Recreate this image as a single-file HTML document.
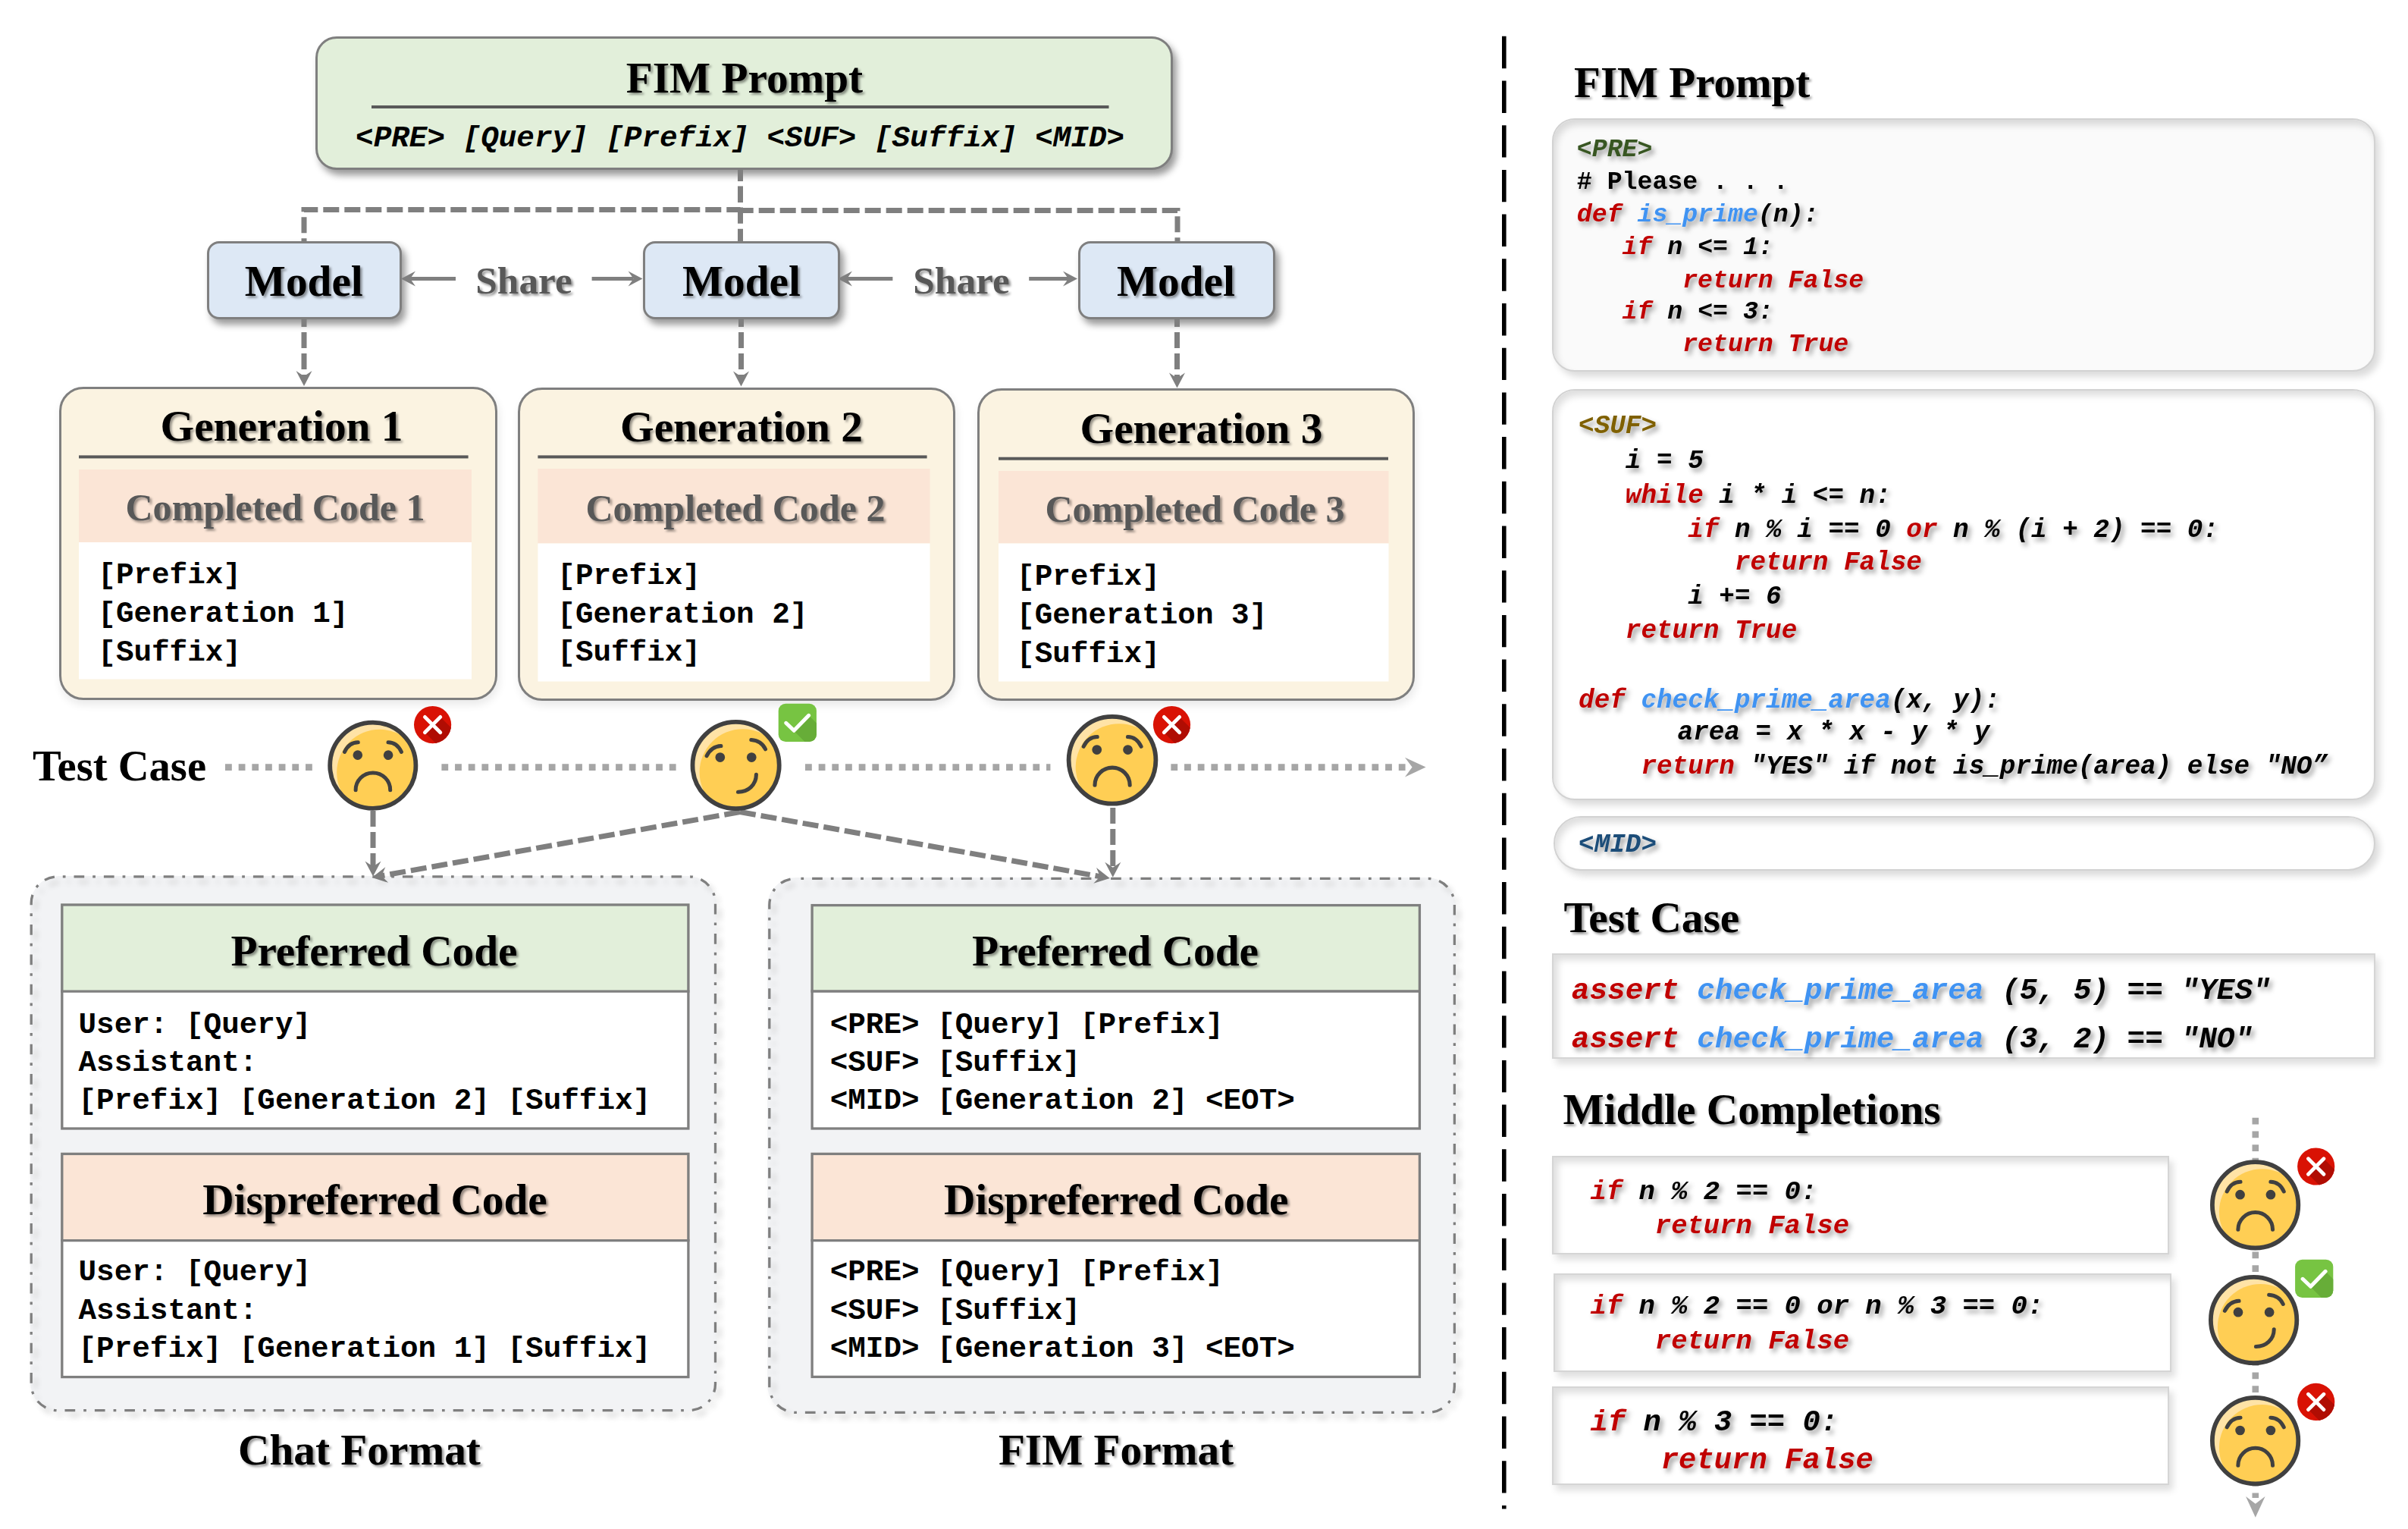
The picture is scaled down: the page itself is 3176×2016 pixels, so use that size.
<!DOCTYPE html>
<html><head><meta charset="utf-8"><title>FIM diagram</title>
<style>
html,body{margin:0;padding:0;background:#fff;}
#wrap{position:relative;width:3176px;height:2016px;overflow:hidden;background:#fff;}
svg{position:absolute;left:0;top:0;}
.serif{font-family:"Liberation Serif",serif;font-weight:bold;}
.mono{font-family:"Liberation Mono",monospace;font-weight:bold;}
</style></head><body>
<div id="wrap">
<div style="position:absolute;left:416.0px;top:48.0px;width:1130.5px;height:175.5px;box-sizing:border-box;background:#e2efda;border:3px solid #7f7f7f;border-radius:28px;box-shadow:5px 7px 10px rgba(0,0,0,0.40);"></div>
<div style="position:absolute;left:272.5px;top:318.0px;width:257.5px;height:102.5px;box-sizing:border-box;background:#dde8f5;border:3px solid #7f7f7f;border-radius:16px;box-shadow:5px 7px 10px rgba(0,0,0,0.40);"></div>
<div style="position:absolute;left:848.0px;top:318.0px;width:260.0px;height:102.5px;box-sizing:border-box;background:#dde8f5;border:3px solid #7f7f7f;border-radius:16px;box-shadow:5px 7px 10px rgba(0,0,0,0.40);"></div>
<div style="position:absolute;left:1422.0px;top:318.0px;width:259.5px;height:102.5px;box-sizing:border-box;background:#dde8f5;border:3px solid #7f7f7f;border-radius:16px;box-shadow:5px 7px 10px rgba(0,0,0,0.40);"></div>
<div style="position:absolute;left:78.0px;top:510.0px;width:578.0px;height:412.5px;box-sizing:border-box;background:#fbf3e1;border:3px solid #7f7f7f;border-radius:32px;box-shadow:2px 6px 12px rgba(0,0,0,0.09);"></div>
<div style="position:absolute;left:683.0px;top:510.5px;width:577.0px;height:413.5px;box-sizing:border-box;background:#fbf3e1;border:3px solid #7f7f7f;border-radius:32px;box-shadow:2px 6px 12px rgba(0,0,0,0.09);"></div>
<div style="position:absolute;left:1288.5px;top:512.0px;width:577.5px;height:412.0px;box-sizing:border-box;background:#fbf3e1;border:3px solid #7f7f7f;border-radius:32px;box-shadow:2px 6px 12px rgba(0,0,0,0.09);"></div>
<div style="position:absolute;left:40.0px;top:1154.5px;width:905.0px;height:706.5px;box-sizing:border-box;background:#f2f3f5;border-radius:38px;box-shadow:4px 6px 10px rgba(0,0,0,0.05);"></div>
<div style="position:absolute;left:1012.0px;top:1157.0px;width:908.0px;height:707.0px;box-sizing:border-box;background:#f2f3f5;border-radius:38px;box-shadow:4px 6px 10px rgba(0,0,0,0.05);"></div>
<div style="position:absolute;left:2046.5px;top:155.5px;width:1086.5px;height:334.5px;box-sizing:border-box;background:#fafafa;border:2px solid #d2d2d2;border-radius:30px;box-shadow:inset 4px 7px 10px rgba(0,0,0,0.13), 6px 7px 10px rgba(0,0,0,0.14);"></div>
<div style="position:absolute;left:2046.5px;top:513.0px;width:1086.5px;height:542.0px;box-sizing:border-box;background:#fff;border:2px solid #d2d2d2;border-radius:30px;box-shadow:inset 4px 7px 10px rgba(0,0,0,0.13), 6px 7px 10px rgba(0,0,0,0.14);"></div>
<div style="position:absolute;left:2048.5px;top:1075.5px;width:1084.5px;height:72.0px;box-sizing:border-box;background:#fff;border:2px solid #d2d2d2;border-radius:36px;box-shadow:inset 4px 7px 10px rgba(0,0,0,0.13), 6px 7px 10px rgba(0,0,0,0.14);"></div>
<div style="position:absolute;left:2046.5px;top:1256.5px;width:1086.5px;height:139.5px;box-sizing:border-box;background:#fff;border:2px solid #d5d5d5;box-shadow:inset 6px 7px 10px rgba(0,0,0,0.13), 5px 7px 9px rgba(0,0,0,0.13);"></div>
<div style="position:absolute;left:2046.5px;top:1523.5px;width:814.5px;height:130.5px;box-sizing:border-box;background:#fff;border:2px solid #d5d5d5;box-shadow:inset 6px 7px 10px rgba(0,0,0,0.13), 5px 7px 9px rgba(0,0,0,0.13);"></div>
<div style="position:absolute;left:2049.0px;top:1678.5px;width:814.5px;height:130.5px;box-sizing:border-box;background:#fff;border:2px solid #d5d5d5;box-shadow:inset 6px 7px 10px rgba(0,0,0,0.13), 5px 7px 9px rgba(0,0,0,0.13);"></div>
<div style="position:absolute;left:2046.5px;top:1827.5px;width:814.5px;height:130.5px;box-sizing:border-box;background:#fff;border:2px solid #d5d5d5;box-shadow:inset 6px 7px 10px rgba(0,0,0,0.13), 5px 7px 9px rgba(0,0,0,0.13);"></div>
<svg width="3176" height="2016" viewBox="0 0 3176 2016">
<defs>
<filter id="ts" x="-10%" y="-30%" width="120%" height="170%">
  <feDropShadow dx="2.6" dy="2.6" stdDeviation="1.7" flood-color="#000" flood-opacity="0.42"/>
</filter>
<filter id="cs" x="-10%" y="-40%" width="120%" height="190%">
  <feDropShadow dx="3.8" dy="4.8" stdDeviation="3.2" flood-color="#000" flood-opacity="0.38"/>
</filter>
<filter id="dsh" x="-5%" y="-5%" width="110%" height="110%">
  <feDropShadow dx="6" dy="7" stdDeviation="3.5" flood-color="#000" flood-opacity="0.15"/>
</filter>
</defs>
<text x="982.0" y="121.7" font-size="57.3" fill="#000" text-anchor="middle" class="serif" filter="url(#ts)">FIM Prompt</text>
<rect x="490" y="139" width="972.5" height="4" fill="#595959"/>
<text x="469.1" y="192.5" font-size="39.3" class="mono" style="white-space:pre;font-style:italic"><tspan fill="#000">&lt;PRE&gt; [Query] [Prefix] &lt;SUF&gt; [Suffix] &lt;MID&gt;</tspan></text>
<path d="M 976.5 224 V 276.5 H 401 V 318" fill="none" stroke="#7f7f7f" stroke-width="7" stroke-dasharray="21 7" stroke-dashoffset="6.3"/>
<path d="M 976.5 224 V 277.5 H 1553 V 318" fill="none" stroke="#7f7f7f" stroke-width="7" stroke-dasharray="21 7" stroke-dashoffset="6.3"/>
<path d="M 976.5 224 V 318" fill="none" stroke="#7f7f7f" stroke-width="7" stroke-dasharray="21 7" stroke-dashoffset="6.3"/>
<text x="400.8" y="389.5" font-size="57.3" fill="#000" text-anchor="middle" class="serif" filter="url(#ts)">Model</text>
<text x="978.0" y="389.5" font-size="57.3" fill="#000" text-anchor="middle" class="serif" filter="url(#ts)">Model</text>
<text x="1551.0" y="389.5" font-size="57.3" fill="#000" text-anchor="middle" class="serif" filter="url(#ts)">Model</text>
<text x="691.0" y="386.8" font-size="51.3" fill="#595959" text-anchor="middle" class="serif" filter="url(#ts)">Share</text>
<text x="1268.0" y="387.4" font-size="51.3" fill="#595959" text-anchor="middle" class="serif" filter="url(#ts)">Share</text>
<line x1="601" y1="367.6" x2="541" y2="367.6" stroke="#7f7f7f" stroke-width="5"/>
<polygon points="529.0,367.6 548.0,357.6 541.0,367.6 548.0,377.6" fill="#7f7f7f"/>
<line x1="780.6" y1="367.6" x2="835.5" y2="367.6" stroke="#7f7f7f" stroke-width="5"/>
<polygon points="847.5,367.6 828.5,377.6 835.5,367.6 828.5,357.6" fill="#7f7f7f"/>
<line x1="1177.4" y1="367.6" x2="1117" y2="367.6" stroke="#7f7f7f" stroke-width="5"/>
<polygon points="1105.0,367.6 1124.0,357.6 1117.0,367.6 1124.0,377.6" fill="#7f7f7f"/>
<line x1="1357.2" y1="367.6" x2="1409" y2="367.6" stroke="#7f7f7f" stroke-width="5"/>
<polygon points="1421.0,367.6 1402.0,377.6 1409.0,367.6 1402.0,357.6" fill="#7f7f7f"/>
<line x1="401.0" y1="421.0" x2="401.0" y2="497.0" stroke="#7f7f7f" stroke-width="7" stroke-dasharray="21 7" stroke-dashoffset="11"/>
<polygon points="401.0,509.0 390.5,489.0 401.0,496.0 411.5,489.0" fill="#7f7f7f"/>
<line x1="977.5" y1="421.0" x2="977.5" y2="497.5" stroke="#7f7f7f" stroke-width="7" stroke-dasharray="21 7" stroke-dashoffset="11"/>
<polygon points="977.5,509.5 967.0,489.5 977.5,496.5 988.0,489.5" fill="#7f7f7f"/>
<line x1="1552.5" y1="421.0" x2="1552.5" y2="499.5" stroke="#7f7f7f" stroke-width="7" stroke-dasharray="21 7" stroke-dashoffset="11"/>
<polygon points="1552.5,511.5 1542.0,491.5 1552.5,498.5 1563.0,491.5" fill="#7f7f7f"/>
<rect x="104" y="600.4" width="513.6" height="4" fill="#595959"/>
<rect x="104" y="619" width="518" height="96" fill="#fbe5d6"/>
<rect x="104" y="715" width="518" height="180.5" fill="#ffffff"/>
<text x="371.5" y="581.0" font-size="57.3" fill="#000" text-anchor="middle" class="serif" filter="url(#ts)">Generation 1</text>
<text x="363.0" y="685.6" font-size="50.1" fill="#595959" text-anchor="middle" class="serif" filter="url(#ts)">Completed Code 1</text>
<text x="129.3" y="769.2" font-size="39.3" class="mono" style="white-space:pre;font-style:normal"><tspan fill="#000">[Prefix]</tspan></text>
<text x="129.3" y="820.0" font-size="39.3" class="mono" style="white-space:pre;font-style:normal"><tspan fill="#000">[Generation 1]</tspan></text>
<text x="129.3" y="871.0" font-size="39.3" class="mono" style="white-space:pre;font-style:normal"><tspan fill="#000">[Suffix]</tspan></text>
<rect x="709.4" y="600.4" width="513.1999999999999" height="4" fill="#595959"/>
<rect x="709.4" y="618" width="517.1" height="98.5" fill="#fbe5d6"/>
<rect x="709.4" y="716.5" width="517.1" height="182.0" fill="#ffffff"/>
<text x="978.0" y="582.0" font-size="57.3" fill="#000" text-anchor="middle" class="serif" filter="url(#ts)">Generation 2</text>
<text x="970.0" y="686.5" font-size="50.1" fill="#595959" text-anchor="middle" class="serif" filter="url(#ts)">Completed Code 2</text>
<text x="735.3" y="770.2" font-size="39.3" class="mono" style="white-space:pre;font-style:normal"><tspan fill="#000">[Prefix]</tspan></text>
<text x="735.3" y="820.8" font-size="39.3" class="mono" style="white-space:pre;font-style:normal"><tspan fill="#000">[Generation 2]</tspan></text>
<text x="735.3" y="871.4" font-size="39.3" class="mono" style="white-space:pre;font-style:normal"><tspan fill="#000">[Suffix]</tspan></text>
<rect x="1317" y="602.7" width="514" height="4" fill="#595959"/>
<rect x="1317" y="621" width="514.5" height="95.5" fill="#fbe5d6"/>
<rect x="1317" y="716.5" width="514.5" height="182.0" fill="#ffffff"/>
<text x="1584.5" y="583.5" font-size="57.3" fill="#000" text-anchor="middle" class="serif" filter="url(#ts)">Generation 3</text>
<text x="1576.0" y="687.6" font-size="50.1" fill="#595959" text-anchor="middle" class="serif" filter="url(#ts)">Completed Code 3</text>
<text x="1341.1" y="771.0" font-size="39.3" class="mono" style="white-space:pre;font-style:normal"><tspan fill="#000">[Prefix]</tspan></text>
<text x="1341.1" y="822.0" font-size="39.3" class="mono" style="white-space:pre;font-style:normal"><tspan fill="#000">[Generation 3]</tspan></text>
<text x="1341.1" y="872.5" font-size="39.3" class="mono" style="white-space:pre;font-style:normal"><tspan fill="#000">[Suffix]</tspan></text>
<text x="43.0" y="1029.0" font-size="56.6" fill="#000" text-anchor="start" class="serif">Test Case</text>
<line x1="297" y1="1011.6" x2="413" y2="1011.6" stroke="#a6a6a6" stroke-width="8.6" stroke-dasharray="8.8 8.87"/>
<line x1="582.4" y1="1011.6" x2="892.2" y2="1011.6" stroke="#a6a6a6" stroke-width="8.6" stroke-dasharray="8.8 8.87"/>
<line x1="1062" y1="1011.6" x2="1385.4" y2="1011.6" stroke="#a6a6a6" stroke-width="8.6" stroke-dasharray="8.8 8.87"/>
<line x1="1544.4" y1="1011.6" x2="1856" y2="1011.6" stroke="#a6a6a6" stroke-width="8.6" stroke-dasharray="8.8 8.87"/>
<polygon points="1880.6,1011.6 1853.0,1024.4 1862.6,1011.6 1853.0,998.8" fill="#a6a6a6"/>
<line x1="492.0" y1="1069.0" x2="492.0" y2="1143.5" stroke="#7f7f7f" stroke-width="7" stroke-dasharray="21 7" stroke-dashoffset="0"/>
<polygon points="492.0,1155.5 481.5,1135.5 492.0,1142.5 502.5,1135.5" fill="#7f7f7f"/>
<line x1="976.0" y1="1070.5" x2="502.3" y2="1154.9" stroke="#7f7f7f" stroke-width="7" stroke-dasharray="21 7" stroke-dashoffset="0"/>
<polygon points="490.5,1157.0 508.3,1143.2 503.3,1154.7 512.0,1163.8" fill="#7f7f7f"/>
<line x1="976.0" y1="1070.5" x2="1452.0" y2="1155.9" stroke="#7f7f7f" stroke-width="7" stroke-dasharray="21 7" stroke-dashoffset="0"/>
<polygon points="1463.8,1158.0 1442.3,1164.8 1451.0,1155.7 1446.0,1144.1" fill="#7f7f7f"/>
<line x1="1467.8" y1="1065.0" x2="1467.8" y2="1144.7" stroke="#7f7f7f" stroke-width="7" stroke-dasharray="21 7" stroke-dashoffset="0"/>
<polygon points="1467.8,1156.7 1457.3,1136.7 1467.8,1143.7 1478.3,1136.7" fill="#7f7f7f"/>
<g transform="translate(491.8,1009.2)"><clipPath id="fc63"><circle r="56.6"/></clipPath><circle r="56.6" fill="#ffe3a6"/><circle cx="9.0" cy="9.2" r="56.6" fill="#ffce54" clip-path="url(#fc63)"/><g transform="scale(1.0000)" fill="none" stroke="#404040" stroke-width="5.0" stroke-linecap="round"><circle cx="-20" cy="-13.6" r="6.3" fill="#404040" stroke="none"/><circle cx="20.3" cy="-13.6" r="6.3" fill="#404040" stroke="none"/><path d="M -37.3 -17.8 Q -31.5 -30.2 -19.5 -30.4"/><path d="M 37.6 -17.8 Q 31.8 -30.2 20.2 -30.4"/><path d="M -22.7 32.5 A 22.6 22.6 0 0 1 22.9 32.5"/></g><circle r="56.6" fill="none" stroke="#404040" stroke-width="5.8"/></g>
<g transform="translate(570.6,955.6)"><clipPath id="xb64"><circle r="24.6"/></clipPath><circle r="24.6" fill="#d91204"/><polygon points="10.2,-10.2 70.2,49.8 49.8,70.2 -10.2,10.2" fill="#b00d03" clip-path="url(#xb64)"/><path d="M -10.2 -10.2 L 10.2 10.2 M 10.2 -10.2 L -10.2 10.2" stroke="#fff" stroke-width="4.8" stroke-linecap="round"/></g>
<g transform="translate(970.6,1009.0)"><clipPath id="fc65"><circle r="57.1"/></clipPath><circle r="57.1" fill="#ffe3a6"/><circle cx="9.1" cy="9.3" r="57.1" fill="#ffce54" clip-path="url(#fc65)"/><g transform="scale(1.0084)" fill="none" stroke="#404040" stroke-width="5.0" stroke-linecap="round"><circle cx="-20.6" cy="-10.3" r="6.3" fill="#404040" stroke="none"/><circle cx="20.5" cy="-10.3" r="6.3" fill="#404040" stroke="none"/><path d="M -38.2 -12.2 Q -32 -24.6 -19.5 -25.2"/><path d="M 20 -33.2 Q 33.5 -32.2 38.6 -21"/><path d="M 26.6 12.2 C 26.6 25.5 16 35 2.8 34.9"/></g><circle r="57.1" fill="none" stroke="#404040" stroke-width="5.8"/></g>
<g transform="translate(1026.7,927.8)"><clipPath id="cb66"><rect width="50.2" height="50.2" rx="9.5"/></clipPath><rect width="50.2" height="50.2" rx="9.5" fill="#77c442"/><polygon points="10.0,25.5 20.5,35.5 40.0,15.5 100.0,75.5 70.0,85.5" fill="#67ad38" clip-path="url(#cb66)"/><path d="M 10.0 25.5 L 20.5 35.5 L 40.0 15.5" fill="none" stroke="#fff" stroke-width="5" stroke-linecap="round" stroke-linejoin="round"/></g>
<g transform="translate(1467.0,1002.3)"><clipPath id="fc67"><circle r="57.4"/></clipPath><circle r="57.4" fill="#ffe3a6"/><circle cx="9.1" cy="9.3" r="57.4" fill="#ffce54" clip-path="url(#fc67)"/><g transform="scale(1.0134)" fill="none" stroke="#404040" stroke-width="5.0" stroke-linecap="round"><circle cx="-20" cy="-13.6" r="6.3" fill="#404040" stroke="none"/><circle cx="20.3" cy="-13.6" r="6.3" fill="#404040" stroke="none"/><path d="M -37.3 -17.8 Q -31.5 -30.2 -19.5 -30.4"/><path d="M 37.6 -17.8 Q 31.8 -30.2 20.2 -30.4"/><path d="M -22.7 32.5 A 22.6 22.6 0 0 1 22.9 32.5"/></g><circle r="57.4" fill="none" stroke="#404040" stroke-width="5.8"/></g>
<g transform="translate(1545.5,955.6)"><clipPath id="xb68"><circle r="24.6"/></clipPath><circle r="24.6" fill="#d91204"/><polygon points="10.2,-10.2 70.2,49.8 49.8,70.2 -10.2,10.2" fill="#b00d03" clip-path="url(#xb68)"/><path d="M -10.2 -10.2 L 10.2 10.2 M 10.2 -10.2 L -10.2 10.2" stroke="#fff" stroke-width="4.8" stroke-linecap="round"/></g>
<rect x="41.2" y="1155.8" width="902.3" height="703.9" rx="35" fill="none" stroke="#7f7f7f" stroke-width="3.3" stroke-dasharray="13.7 11 3.7 11" stroke-dashoffset="18.1" filter="url(#dsh)"/>
<rect x="1014.8" y="1158.3" width="903.6" height="704.1" rx="35" fill="none" stroke="#7f7f7f" stroke-width="3.3" stroke-dasharray="13.7 11 3.7 11" stroke-dashoffset="18.1" filter="url(#dsh)"/>
<rect x="80.2" y="1191.4" width="829.3" height="115.79999999999995" fill="#e2efda"/>
<rect x="80.2" y="1307.2" width="829.3" height="182.39999999999986" fill="#fff"/>
<rect x="81.8" y="1193.0" width="826.0999999999999" height="294.99999999999983" fill="none" stroke="#7f7f7f" stroke-width="3.3"/>
<line x1="80.2" y1="1307.2" x2="909.5" y2="1307.2" stroke="#7f7f7f" stroke-width="3.3"/>
<text x="493.5" y="1273.3" font-size="57.3" fill="#000" text-anchor="middle" class="serif" filter="url(#ts)">Preferred Code</text>
<text x="103.5" y="1362.0" font-size="39.3" class="mono" style="white-space:pre;font-style:normal"><tspan fill="#000">User: [Query]</tspan></text>
<text x="103.5" y="1412.2" font-size="39.3" class="mono" style="white-space:pre;font-style:normal"><tspan fill="#000">Assistant:</tspan></text>
<text x="103.5" y="1461.8" font-size="39.3" class="mono" style="white-space:pre;font-style:normal"><tspan fill="#000">[Prefix] [Generation 2] [Suffix]</tspan></text>
<rect x="80.2" y="1519.8" width="829.3" height="115.90000000000009" fill="#fbe5d6"/>
<rect x="80.2" y="1635.7" width="829.3" height="181.5" fill="#fff"/>
<rect x="81.8" y="1521.3999999999999" width="826.0999999999999" height="294.2000000000001" fill="none" stroke="#7f7f7f" stroke-width="3.3"/>
<line x1="80.2" y1="1635.7" x2="909.5" y2="1635.7" stroke="#7f7f7f" stroke-width="3.3"/>
<text x="494.5" y="1600.5" font-size="57.3" fill="#000" text-anchor="middle" class="serif" filter="url(#ts)">Dispreferred Code</text>
<text x="103.5" y="1688.4" font-size="39.3" class="mono" style="white-space:pre;font-style:normal"><tspan fill="#000">User: [Query]</tspan></text>
<text x="103.5" y="1738.6" font-size="39.3" class="mono" style="white-space:pre;font-style:normal"><tspan fill="#000">Assistant:</tspan></text>
<text x="103.5" y="1788.8" font-size="39.3" class="mono" style="white-space:pre;font-style:normal"><tspan fill="#000">[Prefix] [Generation 1] [Suffix]</tspan></text>
<rect x="1069.5" y="1192" width="804.5" height="115" fill="#e2efda"/>
<rect x="1069.5" y="1307" width="804.5" height="182.5999999999999" fill="#fff"/>
<rect x="1071.1" y="1193.6" width="801.3" height="294.3999999999999" fill="none" stroke="#7f7f7f" stroke-width="3.3"/>
<line x1="1069.5" y1="1307" x2="1874" y2="1307" stroke="#7f7f7f" stroke-width="3.3"/>
<text x="1471.0" y="1273.3" font-size="57.3" fill="#000" text-anchor="middle" class="serif" filter="url(#ts)">Preferred Code</text>
<text x="1094.7" y="1362.0" font-size="39.3" class="mono" style="white-space:pre;font-style:normal"><tspan fill="#000">&lt;PRE&gt; [Query] [Prefix]</tspan></text>
<text x="1094.7" y="1412.2" font-size="39.3" class="mono" style="white-space:pre;font-style:normal"><tspan fill="#000">&lt;SUF&gt; [Suffix]</tspan></text>
<text x="1094.7" y="1461.8" font-size="39.3" class="mono" style="white-space:pre;font-style:normal"><tspan fill="#000">&lt;MID&gt; [Generation 2] &lt;EOT&gt;</tspan></text>
<rect x="1069.5" y="1519.8" width="804.5" height="115.90000000000009" fill="#fbe5d6"/>
<rect x="1069.5" y="1635.7" width="804.5" height="181.29999999999995" fill="#fff"/>
<rect x="1071.1" y="1521.3999999999999" width="801.3" height="294.00000000000006" fill="none" stroke="#7f7f7f" stroke-width="3.3"/>
<line x1="1069.5" y1="1635.7" x2="1874" y2="1635.7" stroke="#7f7f7f" stroke-width="3.3"/>
<text x="1472.2" y="1600.5" font-size="57.3" fill="#000" text-anchor="middle" class="serif" filter="url(#ts)">Dispreferred Code</text>
<text x="1094.7" y="1688.4" font-size="39.3" class="mono" style="white-space:pre;font-style:normal"><tspan fill="#000">&lt;PRE&gt; [Query] [Prefix]</tspan></text>
<text x="1094.7" y="1738.6" font-size="39.3" class="mono" style="white-space:pre;font-style:normal"><tspan fill="#000">&lt;SUF&gt; [Suffix]</tspan></text>
<text x="1094.7" y="1788.8" font-size="39.3" class="mono" style="white-space:pre;font-style:normal"><tspan fill="#000">&lt;MID&gt; [Generation 3] &lt;EOT&gt;</tspan></text>
<text x="474.0" y="1931.0" font-size="57.3" fill="#000" text-anchor="middle" class="serif" filter="url(#ts)">Chat Format</text>
<text x="1472.0" y="1931.0" font-size="57.3" fill="#000" text-anchor="middle" class="serif" filter="url(#ts)">FIM Format</text>
<line x1="1983.8" y1="47.8" x2="1983.8" y2="1989.5" stroke="#000" stroke-width="5.6" stroke-dasharray="42.4 16.3"/>
<text x="2076.0" y="127.8" font-size="57.1" fill="#000" text-anchor="start" class="serif" filter="url(#ts)">FIM Prompt</text>
<text x="2062.4" y="1229.0" font-size="57.3" fill="#000" text-anchor="start" class="serif" filter="url(#ts)">Test Case</text>
<text x="2061.4" y="1481.9" font-size="57.3" fill="#000" text-anchor="start" class="serif" filter="url(#ts)">Middle Completions</text>
<text x="2079.8" y="205.7" font-size="33.2" class="mono" filter="url(#cs)" style="white-space:pre;font-style:italic"><tspan fill="#385723">&lt;PRE&gt;</tspan></text>
<text x="2079.8" y="249.0" font-size="33.2" class="mono" filter="url(#cs)" style="white-space:pre;font-style:italic"><tspan fill="#000" style="font-style:normal"># Please . . .</tspan></text>
<text x="2079.8" y="292.0" font-size="33.2" class="mono" filter="url(#cs)" style="white-space:pre;font-style:italic"><tspan fill="#c00000">def </tspan><tspan fill="#4193f2">is_prime</tspan><tspan fill="#000">(n):</tspan></text>
<text x="2079.8" y="334.5" font-size="33.2" class="mono" filter="url(#cs)" style="white-space:pre;font-style:italic"><tspan fill="#c00000">   if</tspan><tspan fill="#000"> n &lt;= 1:</tspan></text>
<text x="2079.8" y="378.8" font-size="33.2" class="mono" filter="url(#cs)" style="white-space:pre;font-style:italic"><tspan fill="#c00000">       return False</tspan></text>
<text x="2079.8" y="419.5" font-size="33.2" class="mono" filter="url(#cs)" style="white-space:pre;font-style:italic"><tspan fill="#c00000">   if</tspan><tspan fill="#000"> n &lt;= 3:</tspan></text>
<text x="2079.8" y="462.8" font-size="33.2" class="mono" filter="url(#cs)" style="white-space:pre;font-style:italic"><tspan fill="#c00000">       return True</tspan></text>
<text x="2082.1" y="571.4" font-size="34.3" class="mono" filter="url(#cs)" style="white-space:pre;font-style:italic"><tspan fill="#7f6000">&lt;SUF&gt;</tspan></text>
<text x="2082.1" y="616.6" font-size="34.3" class="mono" filter="url(#cs)" style="white-space:pre;font-style:italic"><tspan fill="#000">   i = 5</tspan></text>
<text x="2082.1" y="662.8" font-size="34.3" class="mono" filter="url(#cs)" style="white-space:pre;font-style:italic"><tspan fill="#c00000">   while</tspan><tspan fill="#000"> i * i &lt;= n:</tspan></text>
<text x="2082.1" y="708.0" font-size="34.3" class="mono" filter="url(#cs)" style="white-space:pre;font-style:italic"><tspan fill="#c00000">       if</tspan><tspan fill="#000"> n % i == 0 </tspan><tspan fill="#c00000">or</tspan><tspan fill="#000"> n % (i + 2) == 0:</tspan></text>
<text x="2082.1" y="750.8" font-size="34.3" class="mono" filter="url(#cs)" style="white-space:pre;font-style:italic"><tspan fill="#c00000">          return False</tspan></text>
<text x="2082.1" y="796.0" font-size="34.3" class="mono" filter="url(#cs)" style="white-space:pre;font-style:italic"><tspan fill="#000">       i += 6</tspan></text>
<text x="2082.1" y="841.3" font-size="34.3" class="mono" filter="url(#cs)" style="white-space:pre;font-style:italic"><tspan fill="#c00000">   return True</tspan></text>
<text x="2082.1" y="933.0" font-size="34.3" class="mono" filter="url(#cs)" style="white-space:pre;font-style:italic"><tspan fill="#c00000">def </tspan><tspan fill="#4193f2">check_prime_area</tspan><tspan fill="#000">(x, y):</tspan></text>
<text x="2089.1" y="974.5" font-size="34.3" class="mono" filter="url(#cs)" style="white-space:pre;font-style:italic"><tspan fill="#000">      area = x * x - y * y</tspan></text>
<text x="2082.1" y="1019.8" font-size="34.3" class="mono" filter="url(#cs)" style="white-space:pre;font-style:italic"><tspan fill="#c00000">    return</tspan><tspan fill="#000"> "YES" if not is_prime(area) else "NO”</tspan></text>
<text x="2082.1" y="1123.3" font-size="34.3" class="mono" filter="url(#cs)" style="white-space:pre;font-style:italic"><tspan fill="#1f4e79">&lt;MID&gt;</tspan></text>
<text x="2072.8" y="1317.0" font-size="39.4" class="mono" filter="url(#cs)" style="white-space:pre;font-style:italic"><tspan fill="#c00000">assert</tspan><tspan fill="#000"> </tspan><tspan fill="#4193f2">check_prime_area</tspan><tspan fill="#000"> (5, 5) == "YES"</tspan></text>
<text x="2072.8" y="1381.3" font-size="39.4" class="mono" filter="url(#cs)" style="white-space:pre;font-style:italic"><tspan fill="#c00000">assert</tspan><tspan fill="#000"> </tspan><tspan fill="#4193f2">check_prime_area</tspan><tspan fill="#000"> (3, 2) == "NO"</tspan></text>
<text x="2097.4" y="1580.9" font-size="35.6" class="mono" filter="url(#cs)" style="white-space:pre;font-style:italic"><tspan fill="#c00000">if</tspan><tspan fill="#000"> n % 2 == 0:</tspan></text>
<text x="2097.4" y="1626.0" font-size="35.6" class="mono" filter="url(#cs)" style="white-space:pre;font-style:italic"><tspan fill="#c00000">    return False</tspan></text>
<text x="2097.4" y="1732.2" font-size="35.6" class="mono" filter="url(#cs)" style="white-space:pre;font-style:italic"><tspan fill="#c00000">if</tspan><tspan fill="#000"> n % 2 == 0 or n % 3 == 0:</tspan></text>
<text x="2097.4" y="1778.4" font-size="35.6" class="mono" filter="url(#cs)" style="white-space:pre;font-style:italic"><tspan fill="#c00000">    return False</tspan></text>
<text x="2097.4" y="1885.5" font-size="38.9" class="mono" filter="url(#cs)" style="white-space:pre;font-style:italic"><tspan fill="#c00000">if</tspan><tspan fill="#000"> n % 3 == 0:</tspan></text>
<text x="2097.4" y="1935.5" font-size="38.9" class="mono" filter="url(#cs)" style="white-space:pre;font-style:italic"><tspan fill="#c00000">    return False</tspan></text>
<line x1="2974.8" y1="1473.8" x2="2974.8" y2="1975" stroke="#a6a6a6" stroke-width="8.6" stroke-dasharray="8.8 8.87"/>
<polygon points="2974.8,2000.7 2962.0,1973.1 2974.8,1982.7 2987.6,1973.1" fill="#a6a6a6"/>
<g transform="translate(2974.6,1588.8)"><clipPath id="fc137"><circle r="56.7"/></clipPath><circle r="56.7" fill="#ffe3a6"/><circle cx="9.0" cy="9.2" r="56.7" fill="#ffce54" clip-path="url(#fc137)"/><g transform="scale(1.0017)" fill="none" stroke="#404040" stroke-width="5.0" stroke-linecap="round"><circle cx="-20" cy="-13.6" r="6.3" fill="#404040" stroke="none"/><circle cx="20.3" cy="-13.6" r="6.3" fill="#404040" stroke="none"/><path d="M -37.3 -17.8 Q -31.5 -30.2 -19.5 -30.4"/><path d="M 37.6 -17.8 Q 31.8 -30.2 20.2 -30.4"/><path d="M -22.7 32.5 A 22.6 22.6 0 0 1 22.9 32.5"/></g><circle r="56.7" fill="none" stroke="#404040" stroke-width="5.8"/></g>
<g transform="translate(3054.7,1538.0)"><clipPath id="xb138"><circle r="24.6"/></clipPath><circle r="24.6" fill="#d91204"/><polygon points="10.2,-10.2 70.2,49.8 49.8,70.2 -10.2,10.2" fill="#b00d03" clip-path="url(#xb138)"/><path d="M -10.2 -10.2 L 10.2 10.2 M 10.2 -10.2 L -10.2 10.2" stroke="#fff" stroke-width="4.8" stroke-linecap="round"/></g>
<g transform="translate(2972.6,1740.5)"><clipPath id="fc139"><circle r="56.7"/></clipPath><circle r="56.7" fill="#ffe3a6"/><circle cx="9.0" cy="9.2" r="56.7" fill="#ffce54" clip-path="url(#fc139)"/><g transform="scale(1.0017)" fill="none" stroke="#404040" stroke-width="5.0" stroke-linecap="round"><circle cx="-20.6" cy="-10.3" r="6.3" fill="#404040" stroke="none"/><circle cx="20.5" cy="-10.3" r="6.3" fill="#404040" stroke="none"/><path d="M -38.2 -12.2 Q -32 -24.6 -19.5 -25.2"/><path d="M 20 -33.2 Q 33.5 -32.2 38.6 -21"/><path d="M 26.6 12.2 C 26.6 25.5 16 35 2.8 34.9"/></g><circle r="56.7" fill="none" stroke="#404040" stroke-width="5.8"/></g>
<g transform="translate(3027.1,1660.8)"><clipPath id="cb140"><rect width="50.2" height="50.2" rx="9.5"/></clipPath><rect width="50.2" height="50.2" rx="9.5" fill="#77c442"/><polygon points="10.0,25.5 20.5,35.5 40.0,15.5 100.0,75.5 70.0,85.5" fill="#67ad38" clip-path="url(#cb140)"/><path d="M 10.0 25.5 L 20.5 35.5 L 40.0 15.5" fill="none" stroke="#fff" stroke-width="5" stroke-linecap="round" stroke-linejoin="round"/></g>
<g transform="translate(2974.6,1899.6)"><clipPath id="fc141"><circle r="56.7"/></clipPath><circle r="56.7" fill="#ffe3a6"/><circle cx="9.0" cy="9.2" r="56.7" fill="#ffce54" clip-path="url(#fc141)"/><g transform="scale(1.0017)" fill="none" stroke="#404040" stroke-width="5.0" stroke-linecap="round"><circle cx="-20" cy="-13.6" r="6.3" fill="#404040" stroke="none"/><circle cx="20.3" cy="-13.6" r="6.3" fill="#404040" stroke="none"/><path d="M -37.3 -17.8 Q -31.5 -30.2 -19.5 -30.4"/><path d="M 37.6 -17.8 Q 31.8 -30.2 20.2 -30.4"/><path d="M -22.7 32.5 A 22.6 22.6 0 0 1 22.9 32.5"/></g><circle r="56.7" fill="none" stroke="#404040" stroke-width="5.8"/></g>
<g transform="translate(3054.7,1848.4)"><clipPath id="xb142"><circle r="24.6"/></clipPath><circle r="24.6" fill="#d91204"/><polygon points="10.2,-10.2 70.2,49.8 49.8,70.2 -10.2,10.2" fill="#b00d03" clip-path="url(#xb142)"/><path d="M -10.2 -10.2 L 10.2 10.2 M 10.2 -10.2 L -10.2 10.2" stroke="#fff" stroke-width="4.8" stroke-linecap="round"/></g>
</svg>
</div>
</body></html>
